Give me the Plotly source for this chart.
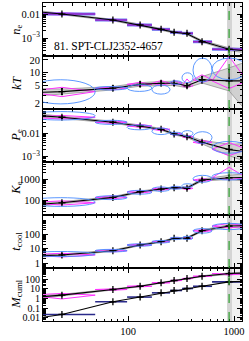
import plotly.graph_objects as go
from plotly.subplots import make_subplots
import math

# ---------------- data ----------------
r_edges = [11, 49, 98, 168, 249, 323, 410, 620, 1320]
r_mid = [23.8, 72, 130, 205, 272, 360, 499, 898]
r_nodes = [14, 23.8, 72, 130, 205, 272, 360, 499, 898, 1300]
r500 = 898
r500_band = [859, 957]
r_outer = [957, 1180]

cluster_label = "81. SPT-CLJ2352-4657"

ne_val = [0.0100, 0.0056, 0.0035, 0.0023, 0.00173, 0.00157, 7.0e-4, 3.4e-4]
ne_lo = [0.0094, 0.0053, 0.0033, 0.00215, 0.00162, 0.00146, 6.4e-4, 3.0e-4]
ne_hi = [0.0107, 0.0060, 0.0037, 0.00245, 0.00185, 0.00168, 7.6e-4, 3.9e-4]
ne_line = [0.0125, 0.0100, 0.0056, 0.0035, 0.0023, 0.00175, 0.00150, 7.3e-4, 3.4e-4, 2.9e-4]
ne_band_lo = [0.0112, 0.0093, 0.0052, 0.0032, 0.0021, 0.0016, 0.00137, 6.7e-4, 3.0e-4, 2.4e-4]
ne_band_hi = [0.0140, 0.0108, 0.0060, 0.0038, 0.0025, 0.0019, 0.00163, 8.0e-4, 3.9e-4, 3.5e-4]
ne_mag_hi = [0.0115, 0.0062, 0.0039, 0.0026, 0.0019, 0.00175, 7.8e-4, 3.8e-4]
ne_mag_lo = [0.0090, 0.0051, 0.0031, 0.0021, 0.00158, 0.00142, 6.3e-4, 3.0e-4]

kT_val = [3.66, 4.4, 5.4, 5.7, 5.7, 5.0, 6.9, 6.5]
kT_lo = [3.1, 3.9, 4.8, 5.1, 5.1, 4.5, 5.8, 4.5]
kT_hi = [4.3, 5.0, 6.2, 6.4, 6.4, 5.6, 8.3, 12]
kT_line = [3.5, 3.66, 4.4, 5.4, 5.7, 5.7, 5.0, 6.9, 6.5, 6.5]
kT_band_lo = [2.9, 3.2, 4.0, 4.9, 5.1, 5.1, 4.5, 5.8, 3.8, 1.3]
kT_band_hi = [4.3, 4.2, 4.8, 5.9, 6.3, 6.4, 5.6, 8.2, 13, 18]
kT_mag_hi = [4.6, 4.7, 6.0, 6.6, 6.6, 7.2, 9.0, 24]
kT_mag_lo = [2.8, 4.0, 5.0, 5.1, 5.2, 4.6, 6.0, 4.3]
kT_ell_lo = [1.9, 4.0, 3.7, 3.2, 5.4, 5.9, 6.1, 6.9]
kT_ell_hi = [6.9, 4.8, 5.3, 5.2, 6.5, 10, 22, 22]

Pe_val = [0.0486, 0.0297, 0.0206, 0.0148, 0.0093, 0.00715, 0.0041, 0.00206]
Pe_lo = [0.043, 0.027, 0.0188, 0.0135, 0.0085, 0.0065, 0.0036, 0.0014]
Pe_hi = [0.055, 0.033, 0.0225, 0.0163, 0.0102, 0.0079, 0.0047, 0.0030]
Pe_line = [0.058, 0.0486, 0.0297, 0.0206, 0.0148, 0.0093, 0.0072, 0.0041, 0.0020, 0.0016]
Pe_band_lo = [0.050, 0.043, 0.027, 0.0188, 0.0135, 0.0085, 0.0065, 0.0035, 0.0011, 0.0006]
Pe_band_hi = [0.068, 0.055, 0.033, 0.0225, 0.0162, 0.0102, 0.0080, 0.0050, 0.0034, 0.0036]
Pe_mag_hi = [0.058, 0.034, 0.024, 0.017, 0.0108, 0.0083, 0.0050, 0.0040]
Pe_mag_lo = [0.041, 0.026, 0.018, 0.0130, 0.0082, 0.0062, 0.0035, 0.0011]
Pe_ell_lo = [0.037, 0.024, 0.0141, 0.0088, 0.0085, 0.0075, 0.0037, 0.0014]
Pe_ell_hi = [0.085, 0.036, 0.0227, 0.0168, 0.011, 0.013, 0.0117, 0.0045]

Ke_val = [74, 134, 248, 334, 385, 360, 896, 1150]
Ke_lo = [64, 120, 222, 300, 345, 320, 790, 900]
Ke_hi = [86, 150, 278, 372, 430, 405, 1020, 1500]
Ke_line = [62, 74, 134, 248, 334, 385, 380, 896, 1150, 1200]
Ke_band_lo = [52, 66, 122, 228, 305, 350, 340, 800, 950, 800]
Ke_band_hi = [75, 84, 148, 270, 365, 420, 420, 1000, 1500, 1800]
Ke_mag_hi = [92, 160, 290, 390, 440, 430, 1050, 3600]
Ke_mag_lo = [58, 115, 215, 290, 335, 310, 770, 950]
Ke_ell_lo = [50, 105, 190, 260, 330, 400, 700, 900]
Ke_ell_hi = [130, 160, 290, 420, 450, 600, 1500, 2000]

tc_val = [3.6, 7.0, 17.4, 29.4, 50, 50, 169, 355]
tc_lo = [3.0, 6.2, 15.5, 26, 44, 44, 148, 260]
tc_hi = [4.3, 7.9, 19.5, 33, 57, 57, 193, 470]
tc_line = [3.1, 3.6, 7.0, 17.4, 29.4, 48, 52, 169, 355, 370]
tc_band_lo = [2.5, 3.1, 6.3, 15.6, 26.5, 43, 46, 148, 290, 250]
tc_band_hi = [3.8, 4.2, 7.8, 19.4, 32.5, 53, 59, 192, 440, 520]
tc_mag_hi = [4.7, 8.5, 20.5, 35, 58, 58, 200, 540]
tc_mag_lo = [2.6, 5.8, 14.8, 25, 43, 43, 140, 260]
tc_ell_lo = [2.8, 5.8, 14.5, 24, 41, 41, 115, 200]
tc_ell_hi = [6.2, 8.7, 21, 36, 60, 70, 235, 540]

Mt_val = [2.2, 8.4, 18, 41, 70, 112, 194, 365]
Mt_lo = [1.8, 7.6, 16.3, 37.5, 64, 103, 178, 300]
Mt_hi = [2.7, 9.3, 20, 45, 77, 122, 212, 440]
Mt_line = [1.4, 2.2, 8.4, 18, 41, 70, 112, 194, 365, 420]
Mt_band_lo = [1.0, 1.8, 7.5, 16, 37, 64, 102, 175, 290, 300]
Mt_band_hi = [2.0, 2.7, 9.4, 20, 45, 77, 123, 215, 430, 520]
Mt_mag_hi = [3.3, 9.8, 21, 46, 78, 125, 215, 320]
Mt_mag_lo = [0.9, 7.0, 15.5, 36, 62, 100, 170, 260]

Mg_val = [0.023, 0.46, 1.4, 3.8, 6.6, 10.6, 18, 51]
Mg_lo = [0.021, 0.43, 1.32, 3.6, 6.3, 10.1, 17, 48]
Mg_hi = [0.025, 0.49, 1.48, 4.0, 6.9, 11.1, 19, 54]
Mg_line = [0.010, 0.023, 0.46, 1.4, 3.8, 6.6, 10.6, 18, 51, 60]

# axis ranges (log10) and ticks
y_ranges = [[-3.75, -1.54], [0.16, 1.39], [-3.23, -0.96], [1.29, 3.81], [-0.345, 3.31], [-2.31, 3.13]]
y_tickvals = [[0.01, 0.001], [2, 5, 10, 20], [0.01, 0.001], [100, 1000], [1, 10, 100], [0.01, 0.1, 1, 10, 100]]
y_ticktext = [["0.01", "10<sup>−3</sup>"], ["2", "5", "10", "20"], ["0.01", "10<sup>−3</sup>"],
              ["100", "1000"], ["1", "10", "100"], ["0.01", "0.1", "1", "10", "100"]]
y_titles = ["<i>n</i><sub>e</sub>", "<i>kT</i>", "<i>P</i><sub>e</sub>", "<i>K</i><sub>e</sub>",
            "<i>t</i><sub>cool</sub>", "<i>M</i><sub>cuml</sub>"]
x_range = [1.198, 3.075]
x_tickvals = [100, 1000]
x_ticktext = ["100", "1000"]

# ---------------- figure ----------------
FONT = "Liberation Serif"
BLACK = "#000000"
MAG = "#ff33ff"
BLUE = "#4a8cff"
GRAYF = "rgba(195,195,195,0.7)"

fig = make_subplots(rows=6, cols=1, shared_xaxes=True, vertical_spacing=0)

panels = [
    dict(val=ne_val, lo=ne_lo, hi=ne_hi, line=ne_line, blo=ne_band_lo, bhi=ne_band_hi,
         mhi=ne_mag_hi, mlo=ne_mag_lo, elo=None, ehi=None, bar=ne_val),
    dict(val=kT_val, lo=kT_lo, hi=kT_hi, line=kT_line, blo=kT_band_lo, bhi=kT_band_hi,
         mhi=kT_mag_hi, mlo=kT_mag_lo, elo=kT_ell_lo, ehi=kT_ell_hi, bar=None),
    dict(val=Pe_val, lo=Pe_lo, hi=Pe_hi, line=Pe_line, blo=Pe_band_lo, bhi=Pe_band_hi,
         mhi=Pe_mag_hi, mlo=Pe_mag_lo, elo=Pe_ell_lo, ehi=Pe_ell_hi, bar=None),
    dict(val=Ke_val, lo=Ke_lo, hi=Ke_hi, line=Ke_line, blo=Ke_band_lo, bhi=Ke_band_hi,
         mhi=Ke_mag_hi, mlo=Ke_mag_lo, elo=Ke_ell_lo, ehi=Ke_ell_hi, bar=None),
    dict(val=tc_val, lo=tc_lo, hi=tc_hi, line=tc_line, blo=tc_band_lo, bhi=tc_band_hi,
         mhi=tc_mag_hi, mlo=tc_mag_lo, elo=tc_ell_lo, ehi=tc_ell_hi, bar=None),
    dict(val=Mt_val, lo=Mt_lo, hi=Mt_hi, line=Mt_line, blo=Mt_band_lo, bhi=Mt_band_hi,
         mhi=Mt_mag_hi, mlo=Mt_mag_lo, elo=None, ehi=None, bar=None),
]

for i, p in enumerate(panels):
    row = i + 1
    yref = "y" if row == 1 else f"y{row}"
    if p["elo"] is not None:
        for k in range(len(r_mid)):
            fig.add_shape(type="circle", xref="x", yref=yref,
                          x0=r_edges[k], x1=r_edges[k + 1], y0=p["elo"][k], y1=p["ehi"][k],
                          line=dict(color=BLUE, width=0.9), layer="above")
    fig.add_trace(go.Scatter(x=r_nodes, y=p["blo"], mode="lines",
                             line=dict(color="#8a8a8a", width=0.7), showlegend=False, hoverinfo="skip"),
                  row=row, col=1)
    fig.add_trace(go.Scatter(x=r_nodes, y=p["bhi"], mode="lines", fill="tonexty", fillcolor=GRAYF,
                             line=dict(color="#8a8a8a", width=0.7), showlegend=False, hoverinfo="skip"),
                  row=row, col=1)
    mx, my = [], []
    for k in range(len(r_mid)):
        mx += [r_edges[k], r_mid[k], r_edges[k + 1], r_mid[k], r_edges[k], None]
        my += [p["val"][k], p["mhi"][k], p["val"][k], p["mlo"][k], p["val"][k], None]
    fig.add_trace(go.Scatter(x=mx, y=my, mode="lines", line=dict(color=MAG, width=1),
                             showlegend=False, hoverinfo="skip", connectgaps=False), row=row, col=1)
    if p["bar"] is not None:
        bx, by = [], []
        for k in range(len(r_mid)):
            bx += [r_edges[k], r_edges[k + 1], None]
            by += [p["bar"][k], p["bar"][k], None]
        fig.add_trace(go.Scatter(x=bx, y=by, mode="lines", line=dict(color="#6a80f0", width=3),
                                 showlegend=False, hoverinfo="skip"), row=row, col=1)
        fig.add_trace(go.Scatter(x=bx, y=by, mode="lines", line=dict(color="#9a22c8", width=1.5),
                                 showlegend=False, hoverinfo="skip"), row=row, col=1)
    fig.add_trace(go.Scatter(x=r_nodes, y=p["line"], mode="lines", line=dict(color=BLACK, width=1.1),
                             showlegend=False, hoverinfo="skip"), row=row, col=1)
    fig.add_trace(go.Scatter(x=r_mid, y=p["val"], mode="markers",
                             marker=dict(symbol="cross-thin", size=5, line=dict(color=BLACK, width=1.3)),
                             error_y=dict(type="data", symmetric=False,
                                          array=[h - v for h, v in zip(p["hi"], p["val"])],
                                          arrayminus=[v - l for v, l in zip(p["val"], p["lo"])],
                                          color=BLACK, thickness=1, width=1),
                             showlegend=False, hoverinfo="skip"), row=row, col=1)

# gas mass curve in last panel
bx, by = [], []
for k in range(len(r_mid)):
    bx += [r_edges[k], r_edges[k + 1], None]
    by += [Mg_val[k], Mg_val[k], None]
fig.add_trace(go.Scatter(x=bx, y=by, mode="lines", line=dict(color="#2a2a8a", width=1.6),
                         showlegend=False, hoverinfo="skip"), row=6, col=1)
fig.add_trace(go.Scatter(x=r_nodes, y=Mg_line, mode="lines", line=dict(color=BLACK, width=1.1),
                         showlegend=False, hoverinfo="skip"), row=6, col=1)
fig.add_trace(go.Scatter(x=r_mid, y=Mg_val, mode="markers",
                         marker=dict(symbol="cross-thin", size=5, line=dict(color=BLACK, width=1.3)),
                         error_y=dict(type="data", symmetric=False,
                                      array=[h - v for h, v in zip(Mg_hi, Mg_val)],
                                      arrayminus=[v - l for v, l in zip(Mg_val, Mg_lo)],
                                      color=BLACK, thickness=1, width=1),
                         showlegend=False, hoverinfo="skip"), row=6, col=1)

# r500 region
for row in range(1, 7):
    yref = "y domain" if row == 1 else f"y{row} domain"
    fig.add_shape(type="rect", xref="x", yref=yref, x0=r_outer[0], x1=r_outer[1], y0=0, y1=1,
                  fillcolor="#f1f1f1", line=dict(width=0), layer="below")
    fig.add_shape(type="rect", xref="x", yref=yref, x0=r500_band[0], x1=r500_band[1], y0=0, y1=1,
                  fillcolor="#d4d4d4", line=dict(width=0), layer="below")
    fig.add_shape(type="line", xref="x", yref=yref, x0=r500, x1=r500, y0=0, y1=1,
                  line=dict(color="#2ca02c", width=1.2, dash="dash"), layer="above")


def minor_vals(lo, hi):
    out = []
    for e in range(int(math.floor(lo)) - 1, int(math.ceil(hi)) + 1):
        for m in range(2, 10):
            out.append(m * 10 ** e)
    return out


for i in range(6):
    row = i + 1
    fs = 10 if row == 6 else 10.5
    fig.update_yaxes(type="log", range=y_ranges[i], tickmode="array", tickvals=y_tickvals[i],
                     ticktext=y_ticktext[i], ticks="inside", ticklen=5, tickwidth=1, tickcolor=BLACK,
                     showline=True, linecolor=BLACK, linewidth=1, mirror="allticks", showgrid=False,
                     zeroline=False, tickfont=dict(family=FONT, size=fs, color=BLACK),
                     minor=dict(tickvals=minor_vals(*y_ranges[i]), ticks="inside", ticklen=2.5,
                                tickcolor=BLACK, showgrid=False),
                     row=row, col=1)
    fig.update_xaxes(type="log", range=x_range, tickmode="array", tickvals=x_tickvals,
                     ticktext=x_ticktext, ticks="inside", ticklen=5, tickwidth=1, tickcolor=BLACK,
                     showline=True, linecolor=BLACK, linewidth=1, mirror="allticks", showgrid=False,
                     zeroline=False, tickfont=dict(family=FONT, size=10.5, color=BLACK),
                     minor=dict(tickvals=minor_vals(*x_range), ticks="inside", ticklen=2.5,
                                tickcolor=BLACK, showgrid=False),
                     showticklabels=(row == 6), row=row, col=1)

for i in range(6):
    dom = fig.layout[f"yaxis{'' if i == 0 else i + 1}"].domain
    fig.add_annotation(text=y_titles[i], xref="paper", yref="paper", x=-0.135,
                       y=(dom[0] + dom[1]) / 2, textangle=-90, showarrow=False,
                       xanchor="center", yanchor="middle",
                       font=dict(family=FONT, size=12.5, color=BLACK))

fig.add_annotation(text=cluster_label, xref="x domain", yref="y domain", x=0.045, y=0.04,
                   xanchor="left", yanchor="bottom", showarrow=False,
                   font=dict(family=FONT, size=11.5, color=BLACK))

fig.update_layout(width=249, height=341, margin=dict(l=43, r=7, t=3, b=20),
                  paper_bgcolor="white", plot_bgcolor="white", showlegend=False,
                  hovermode=False, font=dict(family=FONT, color=BLACK))

fig.write_html("out.html", config={"displayModeBar": False, "staticPlot": True},
               post_script="document.body.style.margin='0';document.body.style.overflow='hidden';")
